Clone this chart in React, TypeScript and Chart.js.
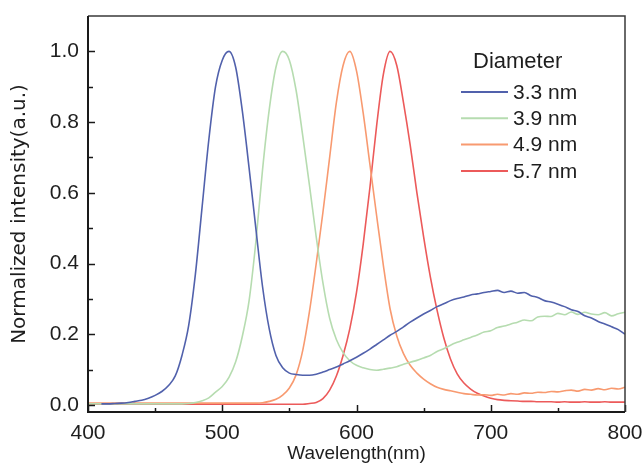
import React, { useEffect, useRef } from "react";
import { Chart, registerables } from "chart.js";

Chart.register(...registerables);

const WAVELENGTH = [
  400, 405, 410, 415, 420, 425, 430, 435, 440, 445,
  450, 455, 460, 465, 470, 475, 480, 485, 490, 495,
  500, 505, 510, 515, 520, 525, 530, 535, 540, 545,
  550, 555, 560, 565, 570, 575, 580, 585, 590, 595,
  600, 605, 610, 615, 620, 625, 630, 635, 640, 645,
  650, 655, 660, 665, 670, 675, 680, 685, 690, 695,
  700, 705, 710, 715, 720, 725, 730, 735, 740, 745,
  750, 755, 760, 765, 770, 775, 780, 785, 790, 795, 800,
];

const D33 = [
  null, null, 0.003, 0.003, 0.004, 0.005, 0.007, 0.010, 0.013, 0.019,
  0.027, 0.038, 0.055, 0.082, 0.140, 0.225, 0.370, 0.560, 0.750, 0.900,
  0.975, 1.000, 0.955, 0.830, 0.670, 0.500, 0.335, 0.215, 0.140, 0.105,
  0.090, 0.086, 0.084, 0.084, 0.087, 0.093, 0.100, 0.107, 0.116, 0.125,
  0.135, 0.146, 0.158, 0.171, 0.184, 0.197, 0.208, 0.221, 0.234, 0.246,
  0.257, 0.267, 0.278, 0.286, 0.295, 0.301, 0.305, 0.311, 0.314, 0.318,
  0.321, 0.324, 0.318, 0.322, 0.316, 0.318, 0.309, 0.304, 0.295, 0.291,
  0.285, 0.278, 0.269, 0.264, 0.252, 0.246, 0.236, 0.229, 0.221, 0.213, 0.200,
];

const D39 = [
  0.003, 0.003, 0.003, 0.003, 0.003, 0.003, 0.003, 0.003, 0.003, 0.003,
  0.003, 0.003, 0.003, 0.003, 0.003, 0.004, 0.007, 0.012, 0.020, 0.036,
  0.052, 0.078, 0.122, 0.195, 0.295, 0.460, 0.665, 0.835, 0.955, 1.000,
  0.975, 0.890, 0.760, 0.620, 0.475, 0.345, 0.245, 0.185, 0.148, 0.125,
  0.112, 0.105, 0.100, 0.098, 0.101, 0.104, 0.108, 0.115, 0.121, 0.126,
  0.133, 0.140, 0.151, 0.159, 0.169, 0.177, 0.184, 0.191, 0.198, 0.206,
  0.210, 0.219, 0.223, 0.229, 0.234, 0.240, 0.238, 0.249, 0.251, 0.250,
  0.259, 0.255, 0.263, 0.256, 0.262, 0.257, 0.255, 0.261, 0.252, 0.258, 0.262,
];

const D49 = [
  0.005, 0.005, 0.005, 0.005, 0.005, 0.005, 0.005, 0.005, 0.005, 0.005,
  0.005, 0.005, 0.005, 0.005, 0.005, 0.005, 0.005, 0.005, 0.005, 0.005,
  0.005, 0.005, 0.005, 0.005, 0.005, 0.005, 0.006, 0.010, 0.016, 0.028,
  0.048, 0.085, 0.155, 0.265, 0.400, 0.545, 0.700, 0.855, 0.960, 1.000,
  0.945, 0.825, 0.680, 0.535, 0.395, 0.272, 0.195, 0.145, 0.112, 0.090,
  0.073, 0.060, 0.050, 0.044, 0.040, 0.036, 0.032, 0.030, 0.028, 0.029,
  0.027, 0.030, 0.028, 0.032, 0.030, 0.034, 0.033, 0.036, 0.035, 0.038,
  0.037, 0.040, 0.042, 0.039, 0.044, 0.042, 0.046, 0.043, 0.047, 0.045, 0.050,
];

const D57 = [
  0.002, 0.002, 0.002, 0.002, 0.002, 0.002, 0.002, 0.002, 0.002, 0.002,
  0.002, 0.002, 0.002, 0.002, 0.002, 0.002, 0.002, 0.002, 0.002, 0.002,
  0.002, 0.002, 0.002, 0.002, 0.002, 0.002, 0.002, 0.002, 0.002, 0.002,
  0.002, 0.002, 0.002, 0.004, 0.007, 0.018, 0.042, 0.082, 0.140, 0.215,
  0.318, 0.455, 0.615, 0.790, 0.935, 1.000, 0.960, 0.855, 0.735, 0.600,
  0.475, 0.362, 0.268, 0.190, 0.130, 0.088, 0.062, 0.045, 0.033, 0.025,
  0.019, 0.015, 0.013, 0.012, 0.011, 0.010, 0.010, 0.009, 0.009, 0.009,
  0.008, 0.009, 0.008, 0.008, 0.009, 0.008, 0.008, 0.009, 0.008, 0.008, 0.008,
];

const SERIES = [D33, D39, D49, D57];
const LABELS = ["3.3 nm", "3.9 nm", "4.9 nm", "5.7 nm"];
const COLORS = ["#5161ac", "#b6dcb0", "#f89a70", "#ec5a5a"];
const LEGEND_TITLE = "Diameter";
const X_TICKS = [400, 500, 600, 700, 800];
const Y_TICKS = [0, 0.2, 0.4, 0.6, 0.8, 1.0];
const X_TITLE = "Wavelength(nm)";
const Y_TITLE = "Normalized intensity(a.u.)";

const TEXT = "#1e1e1e";

const framePlugin = {
  id: "frame",
  afterDraw(chart: any) {
    const { ctx, chartArea: a, scales } = chart;
    const xs = scales.x;
    const ys = scales.y;
    ctx.save();
    ctx.strokeStyle = "#1a1a1a";
    ctx.lineWidth = 1.5;
    for (let i = 0; i < X_TICKS.length; i++) {
      const px = Math.round(xs.getPixelForValue(X_TICKS[i])) + 0.5;
      ctx.beginPath();
      ctx.moveTo(px, a.bottom);
      ctx.lineTo(px, a.bottom - 7);
      ctx.stroke();
      if (i < X_TICKS.length - 1) {
        const mx = Math.round(xs.getPixelForValue((X_TICKS[i] + X_TICKS[i + 1]) / 2)) + 0.5;
        ctx.beginPath();
        ctx.moveTo(mx, a.bottom);
        ctx.lineTo(mx, a.bottom - 4);
        ctx.stroke();
      }
    }
    for (let i = 0; i < Y_TICKS.length; i++) {
      const py = Math.round(ys.getPixelForValue(Y_TICKS[i])) + 0.5;
      ctx.beginPath();
      ctx.moveTo(a.left, py);
      ctx.lineTo(a.left + 7, py);
      ctx.stroke();
      if (i < Y_TICKS.length - 1) {
        const my = Math.round(ys.getPixelForValue((Y_TICKS[i] + Y_TICKS[i + 1]) / 2)) + 0.5;
        ctx.beginPath();
        ctx.moveTo(a.left, my);
        ctx.lineTo(a.left + 5, my);
        ctx.stroke();
      }
    }
    ctx.strokeStyle = "#3a3a3a";
    ctx.lineWidth = 1.5;
    ctx.beginPath();
    ctx.moveTo(a.left, a.top);
    ctx.lineTo(a.right, a.top);
    ctx.lineTo(a.right, a.bottom);
    ctx.stroke();
    ctx.strokeStyle = "#1a1a1a";
    ctx.lineWidth = 2;
    ctx.beginPath();
    ctx.moveTo(a.left, a.top);
    ctx.lineTo(a.left, a.bottom);
    ctx.lineTo(a.right, a.bottom);
    ctx.stroke();

    ctx.fillStyle = TEXT;
    ctx.textBaseline = "middle";
    ctx.textAlign = "left";
    ctx.font = "22px 'Liberation Sans', Arial, sans-serif";
    ctx.fillText(LEGEND_TITLE, 473, 62);
    ctx.font = "21px 'Liberation Sans', Arial, sans-serif";
    for (let i = 0; i < LABELS.length; i++) {
      const y = 92 + i * 26.3;
      ctx.strokeStyle = COLORS[i];
      ctx.lineWidth = 2;
      ctx.beginPath();
      ctx.moveTo(461, y);
      ctx.lineTo(508, y);
      ctx.stroke();
      ctx.fillStyle = TEXT;
      ctx.fillText(LABELS[i], 513, y + 1);
    }
    ctx.restore();
  },
};

export default function App() {
  const ref = useRef<HTMLCanvasElement | null>(null);
  useEffect(() => {
    if (!ref.current) return;
    const chart = new Chart(ref.current, {
      type: "line",
      data: {
        datasets: SERIES.map((s, i) => ({
          label: LABELS[i],
          data: WAVELENGTH.map((w, j) => ({ x: w, y: s[j] })),
          borderColor: COLORS[i],
          backgroundColor: COLORS[i],
          borderWidth: 1.6,
          pointRadius: 0,
          cubicInterpolationMode: "monotone",
          spanGaps: false,
        })),
      },
      options: {
        animation: false,
        responsive: false,
        maintainAspectRatio: false,
        layout: { padding: { top: 16, right: 19, left: 0, bottom: 0 } },
        plugins: { legend: { display: false }, tooltip: { enabled: false } },
        scales: {
          x: {
            type: "linear",
            min: 400,
            max: 800,
            afterBuildTicks: (s: any) => {
              s.ticks = X_TICKS.map((v) => ({ value: v }));
            },
            ticks: {
              color: TEXT,
              font: { family: "'Liberation Sans', Arial, sans-serif", size: 21 },
              padding: 9,
              maxRotation: 0,
              autoSkip: false,
              callback: (v: any) => String(v),
            },
            grid: { display: false, drawTicks: false },
            border: { display: false },
            title: {
              display: true,
              text: X_TITLE,
              color: TEXT,
              font: { family: "'Liberation Sans', Arial, sans-serif", size: 19 },
              padding: { top: 0, bottom: 0 },
            },
            afterFit: (s: any) => {
              s.height = 53;
              s.paddingLeft = 0;
              s.paddingRight = 0;
            },
          },
          y: {
            type: "linear",
            min: -0.02,
            max: 1.1,
            afterBuildTicks: (s: any) => {
              s.ticks = Y_TICKS.map((v) => ({ value: v }));
            },
            ticks: {
              color: TEXT,
              font: { family: "'Liberation Sans', Arial, sans-serif", size: 21 },
              padding: 9,
              autoSkip: false,
              callback: (v: any) => Number(v).toFixed(1),
            },
            grid: { display: false, drawTicks: false },
            border: { display: false },
            title: {
              display: true,
              text: Y_TITLE,
              color: TEXT,
              font: { family: "'DejaVu Sans', sans-serif", size: 20 },
              padding: { top: 8, bottom: 0 },
            },
            afterFit: (s: any) => {
              s.width = 88;
              s.paddingTop = 0;
              s.paddingBottom = 0;
            },
          },
        },
      },
      plugins: [framePlugin],
    } as any);
    return () => chart.destroy();
  }, []);
  return (
    <div style={{ position: "absolute", left: 0, top: 0, width: 644, height: 465, background: "#fff" }}>
      <canvas ref={ref} width={644} height={465} style={{ display: "block", width: 644, height: 465 }} />
    </div>
  );
}
